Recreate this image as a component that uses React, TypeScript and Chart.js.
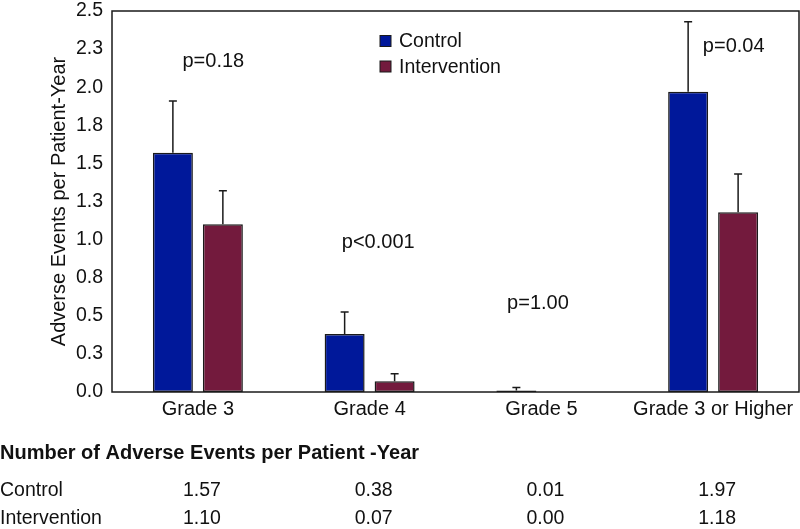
import React, { useEffect, useRef } from "react";
import { Chart, registerables } from "chart.js";

Chart.register(...registerables);

const categories = ["Grade 3", "Grade 4", "Grade 5", "Grade 3 or Higher"];
const seriesNames = ["Control", "Intervention"];
const controlValues = [1.57, 0.38, 0.01, 1.97];
const interventionValues = [1.1, 0.07, 0.0, 1.18];
const controlUpper = [1.91, 0.525, 0.03, 2.43];
const interventionUpper = [1.32, 0.12, 0.0, 1.43];
const pLabels = ["p=0.18", "p<0.001", "p=1.00", "p=0.04"];
const pHeights = [2.17, 0.98, 0.58, 2.27];
const pShift = [0.09, 0.05, -0.02, 0.12];
const yMin = 0;
const yMax = 2.5;
const yStep = 0.25;
const tableTitle = "Number of Adverse Events per Patient -Year";

const FONT = "'Liberation Sans', Arial, Helvetica, sans-serif";
const BLUE = "#00189a";
const MAROON = "#731a3d";
const INK = "#111111";

const overlay = {
  id: "overlay",
  afterDatasetsDraw(chart: any) {
    const ctx = chart.ctx;
    const { left, right, top, bottom } = chart.chartArea;
    const xs = chart.scales.x;
    const ys = chart.scales.y;
    const uppers = [controlUpper, interventionUpper];
    ctx.save();
    ctx.strokeStyle = "#1a1a1a";
    ctx.lineWidth = 1.5;
    chart.data.datasets.forEach((ds: any, d: number) => {
      const meta = chart.getDatasetMeta(d);
      meta.data.forEach((el: any, i: number) => {
        const up = uppers[d][i];
        const val = ds.data[i];
        if (up <= val) return;
        const yt = ys.getPixelForValue(up);
        ctx.beginPath();
        ctx.moveTo(el.x, el.y);
        ctx.lineTo(el.x, yt);
        ctx.moveTo(el.x - 4, yt);
        ctx.lineTo(el.x + 4, yt);
        ctx.stroke();
      });
    });
    // frame
    ctx.strokeRect(left, top, right - left, bottom - top);

    // p-values
    ctx.fillStyle = INK;
    ctx.font = `20px ${FONT}`;
    ctx.textAlign = "center";
    ctx.textBaseline = "middle";
    const catW = (right - left) / categories.length;
    pLabels.forEach((t, i) => {
      const px = xs.getPixelForValue(i) + pShift[i] * catW;
      const py = ys.getPixelForValue(pHeights[i]);
      ctx.fillText(t, px, py);
    });

    // legend
    const colors = [BLUE, MAROON];
    ctx.font = `19.5px ${FONT}`;
    seriesNames.forEach((name, i) => {
      const ly = 41 + i * 25.5;
      ctx.fillStyle = colors[i];
      ctx.fillRect(380, ly - 5.5, 11, 11);
      ctx.strokeStyle = "#1a1a1a";
      ctx.lineWidth = 1;
      ctx.strokeRect(380, ly - 5.5, 11, 11);
      ctx.fillStyle = INK;
      ctx.textAlign = "left";
      ctx.fillText(name, 399, ly + 1);
    });

    // y title
    ctx.save();
    ctx.font = `20px ${FONT}`;
    ctx.translate(59, (top + bottom) / 2);
    ctx.rotate(-Math.PI / 2);
    ctx.textAlign = "center";
    ctx.textBaseline = "middle";
    ctx.fillText("Adverse Events per Patient-Year", 0, 0);
    ctx.restore();

    // table
    ctx.textBaseline = "alphabetic";
    ctx.textAlign = "left";
    ctx.font = `bold 20px ${FONT}`;
    ctx.fillText(tableTitle, 0, 459);
    ctx.font = `19.5px ${FONT}`;
    const rows = [controlValues, interventionValues];
    const rowY = [496, 524];
    seriesNames.forEach((name, r) => {
      ctx.textAlign = "left";
      ctx.fillText(name, 0, rowY[r]);
      ctx.textAlign = "center";
      rows[r].forEach((v, i) => {
        ctx.fillText(v.toFixed(2), xs.getPixelForValue(i) + 4, rowY[r]);
      });
    });
    ctx.restore();
  },
};

export default function App() {
  const ref = useRef<HTMLCanvasElement | null>(null);
  useEffect(() => {
    if (!ref.current) return;
    const chart = new Chart(ref.current, {
      type: "bar",
      data: {
        labels: categories,
        datasets: [
          {
            label: seriesNames[0],
            data: controlValues,
            backgroundColor: BLUE,
            borderColor: "#1a1a1a",
            borderWidth: 1.5,
            borderSkipped: false,
          },
          {
            label: seriesNames[1],
            data: interventionValues,
            backgroundColor: MAROON,
            borderColor: "#1a1a1a",
            borderWidth: 1.5,
            borderSkipped: false,
          },
        ],
      },
      options: {
        animation: false,
        responsive: false,
        maintainAspectRatio: false,
        events: [],
        layout: { padding: { top: 0, right: 1, left: 0, bottom: 107 } },
        datasets: {
          bar: { categoryPercentage: 0.582, barPercentage: 0.8 },
        },
        plugins: {
          legend: { display: false },
          tooltip: { enabled: false },
          title: { display: false },
        },
        scales: {
          x: {
            grid: { display: false, drawTicks: false },
            border: { display: false },
            ticks: {
              color: INK,
              font: { family: FONT, size: 20 },
              padding: 5,
              maxRotation: 0,
              autoSkip: false,
            },
            afterFit: (s: any) => {
              s.height = 30;
            },
          },
          y: {
            min: yMin,
            max: yMax,
            grid: { display: false, drawTicks: false },
            border: { display: false },
            ticks: {
              stepSize: yStep,
              color: INK,
              font: { family: FONT, size: 19.5 },
              padding: 9,
              callback: (v: any) => Number(v).toFixed(1),
            },
            afterFit: (s: any) => {
              s.width = 112;
              s.paddingTop = 11;
              s.paddingBottom = 0;
            },
          },
        },
      },
      plugins: [overlay],
    });
    return () => chart.destroy();
  }, []);
  return (
    <div style={{ position: "absolute", left: 0, top: 0, width: 800, height: 529, background: "#fff" }}>
      <canvas ref={ref} width={800} height={529} style={{ width: 800, height: 529, display: "block" }} />
    </div>
  );
}
